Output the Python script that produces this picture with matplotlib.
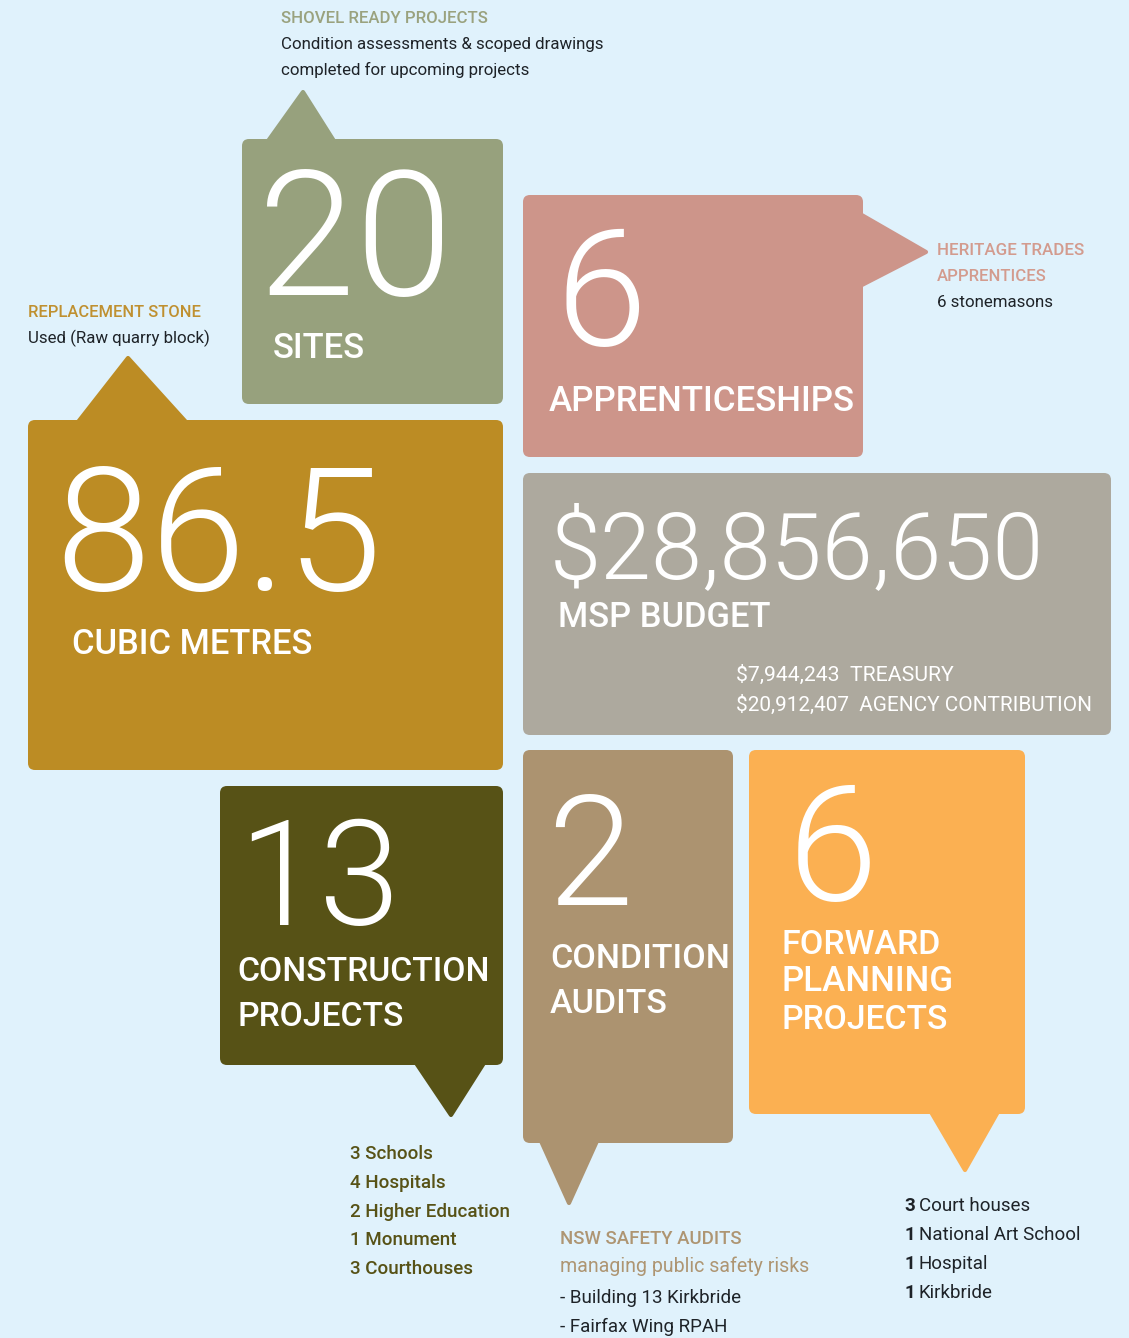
import matplotlib
matplotlib.use("Agg")
import matplotlib.pyplot as plt
from matplotlib.patches import FancyBboxPatch, Polygon

big_numbers = ["20", "6", "86.5", "$28,856,650", "13", "2", "6"]
tile_labels = [["SITES"], ["APPRENTICESHIPS"], ["CUBIC METRES"], ["MSP BUDGET"],
               ["CONSTRUCTION", "PROJECTS"], ["CONDITION", "AUDITS"],
               ["FORWARD", "PLANNING", "PROJECTS"]]
budget_split = [("$7,944,243", "TREASURY"), ("$20,912,407", "AGENCY CONTRIBUTION")]
shovel_note = ["SHOVEL READY PROJECTS", "Condition assessments & scoped drawings",
               "completed for upcoming projects"]
trades_note = ["HERITAGE TRADES", "APPRENTICES", "6 stonemasons"]
stone_note = ["REPLACEMENT STONE", "Used (Raw quarry block)"]
construction_list = [("3", "Schools"), ("4", "Hospitals"), ("2", "Higher Education"),
                     ("1", "Monument"), ("3", "Courthouses")]
audit_note = ["NSW SAFETY AUDITS", "managing public safety risks"]
audit_list = ["Building 13 Kirkbride", "Fairfax Wing RPAH"]
planning_list = [("3", "Court houses"), ("1", "National Art School"),
                 ("1", "Hospital"), ("1", "Kirkbride")]

# ---- layout (pixel coordinates, y down) ----
W, H = 1129, 1338
BG = "#E0F2FC"
DARK = "#1E2328"
tiles = [
    # box, colour, pointer, number x/baseline/width/cap height, label x, baselines, widths
    dict(box=(242, 139, 503, 404), c="#97A17D", ptr=[(268, 141), (303, 92), (334, 141)],
         num=(258, 295, 200, 118), lx=273, ly=[358], lw=[92]),
    dict(box=(523, 195, 863, 457), c="#CD958A", ptr=[(860, 214), (926, 252), (860, 286)],
         num=(555, 345, 91, 117), lx=549, ly=[411], lw=[306]),
    dict(box=(28, 420, 503, 770), c="#BC8C24", ptr=[(78, 422), (128, 358), (186, 422)],
         num=(55, 590, 338, 115), lx=72, ly=[654], lw=[240]),
    dict(box=(523, 473, 1111, 735), c="#ADA99E", ptr=None,
         num=(550, 578, 518, 60), lx=558, ly=[627], lw=[212]),
    dict(box=(220, 786, 503, 1065), c="#575216", ptr=[(416, 1063), (451, 1115), (484, 1063)],
         num=(238, 925, 147, 118), lx=237, ly=[981, 1026], lw=[252, 166]),
    dict(box=(523, 750, 733, 1143), c="#AC9370", ptr=[(541, 1141), (569, 1203), (597, 1141)],
         num=(547, 905, 81, 117), lx=550, ly=[968, 1013], lw=[179, 118]),
    dict(box=(749, 750, 1025, 1114), c="#FBB052", ptr=[(931, 1112), (965, 1170), (999, 1110)],
         num=(788, 900, 90, 115), lx=782, ly=[954, 991, 1029], lw=[159, 172, 166]),
]

fig = plt.figure(figsize=(W / 100, H / 100), dpi=100)
fig.patch.set_facecolor(BG)
ax = fig.add_axes([0, 0, 1, 1])
ax.set_xlim(0, W)
ax.set_ylim(H, 0)
ax.axis("off")
renderer = fig.canvas.get_renderer()


def fit_text(x, y, s, width, size=20, cap=None, **kw):
    # text at x / baseline y, sized to span `width` px (blended with cap height if given)
    t = ax.text(x, y, s, fontsize=size, va="baseline", ha="left", **kw)
    bb = t.get_window_extent(renderer)
    new = size * width / bb.width
    if cap:
        new = 0.6 * new + 0.4 * (cap / 0.711 * 0.72)
    t.set_fontsize(new)
    return t


for i, tl in enumerate(tiles):
    x0, y0, x1, y1 = tl["box"]
    ax.add_patch(FancyBboxPatch((x0, y0), x1 - x0, y1 - y0,
                                boxstyle="round,pad=0,rounding_size=7",
                                fc=tl["c"], ec="none", zorder=2))
    if tl["ptr"]:
        ax.add_patch(Polygon(tl["ptr"], closed=True, fc=tl["c"], ec=tl["c"],
                             lw=3, joinstyle="round", zorder=2))
    nx, ny, nw, nh = tl["num"]
    fit_text(nx, ny, big_numbers[i], nw, cap=nh, family="Roboto", fontweight=300,
             color="white", zorder=3)
    for lab, ly, lw in zip(tile_labels[i], tl["ly"], tl["lw"]):
        fit_text(tl["lx"], ly, lab, lw, family="Roboto", fontweight="medium",
                 color="white", zorder=3)

# budget split lines
for (amt, src), yy, ww in zip(budget_split, [681, 711], [218, 356]):
    fit_text(736, yy, amt + "  " + src, ww, family="Roboto", color="white", zorder=3)

# notes around the tiles
fit_text(281, 23, shovel_note[0], 206, family="Roboto", fontweight="medium", color="#9AA27E")
ax.text(281, 49, shovel_note[1], fontsize=12.2, family="Roboto", color=DARK, va="baseline")
ax.text(281, 75, shovel_note[2], fontsize=12.2, family="Roboto", color=DARK, va="baseline")

fit_text(937, 255, trades_note[0], 146, family="Roboto", fontweight="medium", color="#D39B8E")
fit_text(937, 281, trades_note[1], 109, family="Roboto", fontweight="medium", color="#D39B8E")
ax.text(937, 307, trades_note[2], fontsize=12.2, family="Roboto", color=DARK, va="baseline")

fit_text(28, 317, stone_note[0], 172, family="Roboto", fontweight="medium", color="#BF9030")
ax.text(28, 343, stone_note[1], fontsize=12.2, family="Roboto", color=DARK, va="baseline")

for k, (n, what) in enumerate(construction_list):
    ax.text(350, 1159 + k * 28.8, n + " " + what, fontsize=13.5, family="Roboto",
            fontweight="medium", color="#575216", va="baseline")

fit_text(560, 1244, audit_note[0], 182, family="Roboto", fontweight="medium", color="#AE9572")
fit_text(560, 1272, audit_note[1], 248, family="Roboto", color="#AE9572")
for k, item in enumerate(audit_list):
    ax.text(560, 1303 + k * 29, "- " + item, fontsize=13.5, family="Roboto",
            color=DARK, va="baseline")

for k, (n, what) in enumerate(planning_list):
    yy = 1211 + k * 29
    t = ax.text(904, yy, n, fontsize=13.5, family="Roboto", fontweight="bold",
                color=DARK, va="baseline")
    bb = t.get_window_extent(renderer)
    ax.text(904 + bb.width + 4, yy, what, fontsize=13.5, family="Roboto",
            color=DARK, va="baseline")

fig.savefig("out.png", dpi=100, facecolor=BG)
